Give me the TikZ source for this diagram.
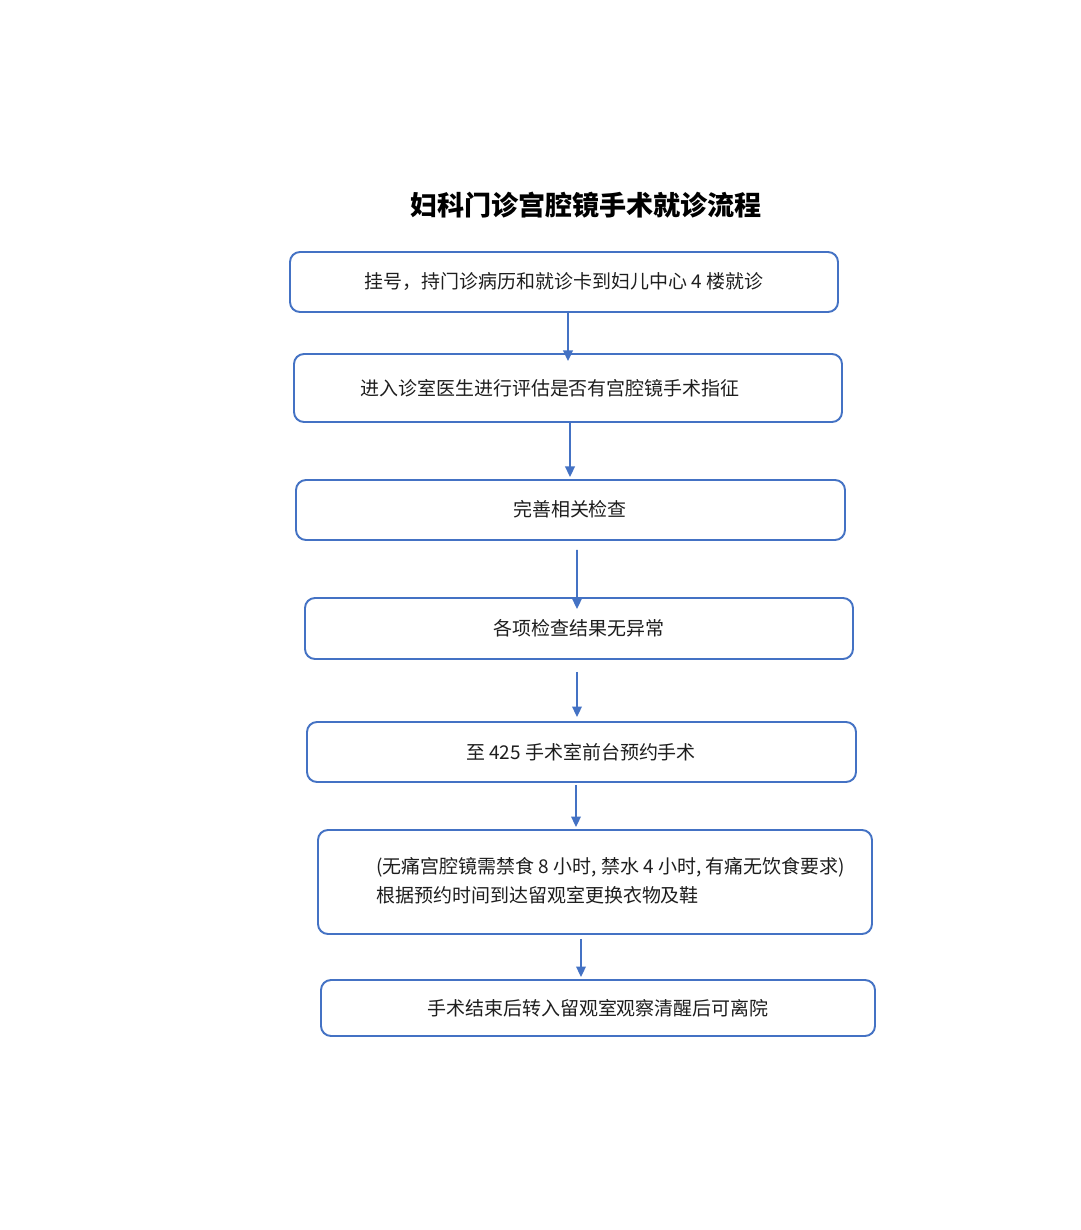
\documentclass[tikz,border=0pt]{standalone}
\usepackage{fontspec}
\usepackage{tikz}
\usetikzlibrary{arrows.meta, calc}
\setmainfont{Noto Sans CJK SC}
\definecolor{fcblue}{HTML}{4472C4}
\definecolor{fctext}{HTML}{1E1E1E}

\begin{document}
\begin{tikzpicture}[x=0.02cm, y=-0.02cm,
  stepbox/.style={rectangle, rounded corners=0.2cm, draw=fcblue,
                  line width=1.1pt, inner sep=0pt},
  steptext/.style={text=fctext, inner sep=0pt,
                   font=\fontsize{10.8pt}{16.5pt}\selectfont},
  flow/.style={-{Triangle[length=6pt, width=5.5pt]}, draw=fcblue, line width=0.9pt}
]
\useasboundingbox[fill=white] (0,0) rectangle (1080,1230);

\node[font=\fontsize{15.4pt}{18pt}\selectfont\bfseries, text=black, inner sep=0pt]
  (title) at (586,205) {妇科门诊宫腔镜手术就诊流程};

% boxes: centre x / centre y / width / height
\foreach \i/\cx/\cy/\w/\h in {%
  1/564/282/548/60,%
  2/568/388/548/68,%
  3/570.5/510/549/60,%
  4/579/628.5/548/61,%
  5/581.5/752/549/60,%
  6/595/882/554/104,%
  7/598/1008/554/56%
} {
  \node[stepbox, minimum width=\w*0.02cm, minimum height=\h*0.02cm] (b\i) at (\cx,\cy) {};
}

\foreach \i/\tx/\ty/\t in {%
  1/564/282/{挂号，持门诊病历和就诊卡到妇儿中心 4 楼就诊},%
  2/550/388/{进入诊室医生进行评估是否有宫腔镜手术指征},%
  3/570/509/{完善相关检查},%
  4/579/628/{各项检查结果无异常},%
  5/581/752/{至 425 手术室前台预约手术},%
  7/598/1008/{手术结束后转入留观室观察清醒后可离院}%
} {
  \node[steptext] (t\i) at (\tx,\ty) {\t};
}
\node[steptext, anchor=west, align=left] (t6) at (376,881)
  {(无痛宫腔镜需禁食 8 小时, 禁水 4 小时, 有痛无饮食要求)\\根据预约时间到达留观室更换衣物及鞋};

% arrows between the boxes
\foreach \a/\b/\sx/\sy/\ex/\ey in {%
  1/2/4/-2/0/8,%
  2/3/2/0/-0.5/-2,%
  3/4/6.5/9/-2/12,%
  4/5/-2/12/-4.5/-4,%
  5/6/-5.5/2/-19/-2,%
  6/7/-14/4/-17/-2%
} {
  \draw[flow] ($(b\a.south)+(\sx,\sy)$) -- ($(b\b.north)+(\ex,\ey)$);
}
\end{tikzpicture}
\end{document}
